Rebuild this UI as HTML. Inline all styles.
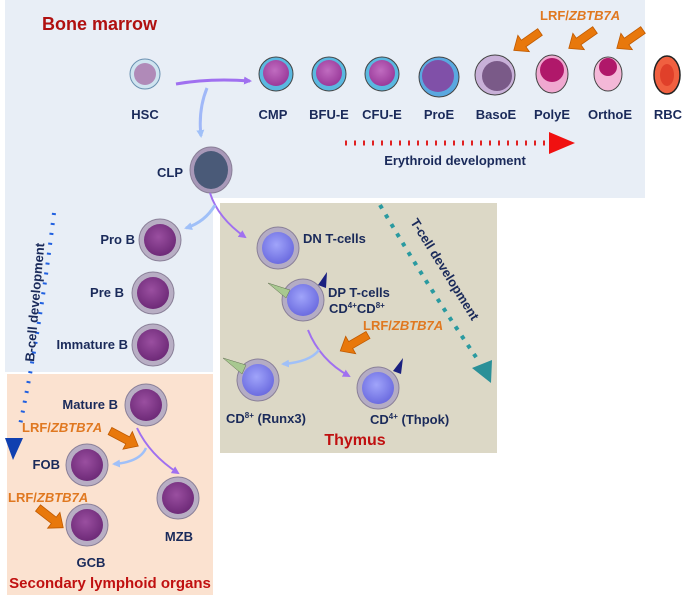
<!DOCTYPE html>
<html><head><meta charset="utf-8"><style>
body{margin:0;background:#fff;}
svg{display:block;font-family:"Liberation Sans",sans-serif;font-weight:bold;}
</style></head><body>
<svg width="685" height="595" viewBox="0 0 685 595" xmlns="http://www.w3.org/2000/svg">
<defs>
<radialGradient id="bc" cx="45%" cy="40%" r="60%"><stop offset="0" stop-color="#9a4fa0"/><stop offset="1" stop-color="#6e2a78"/></radialGradient>
<radialGradient id="tc" cx="45%" cy="40%" r="60%"><stop offset="0" stop-color="#a0a4fa"/><stop offset="1" stop-color="#6c6ce0"/></radialGradient>
<radialGradient id="ec" cx="45%" cy="40%" r="60%"><stop offset="0" stop-color="#c06cc0"/><stop offset="1" stop-color="#9a3a9a"/></radialGradient>
<g id="bcell"><circle r="21" fill="#b8aec4" stroke="#8a8098" stroke-width="1"/><circle r="16" fill="url(#bc)"/></g>
<g id="tcell"><circle r="21" fill="#b4acc4" stroke="#8a8098" stroke-width="1"/><circle r="16" fill="url(#tc)"/></g>
<marker id="ap" markerWidth="8" markerHeight="8" refX="6" refY="4" orient="auto" markerUnits="userSpaceOnUse"><path d="M0,0L8,4L0,8z" fill="#a070f0"/></marker>
<marker id="al" markerWidth="8" markerHeight="8" refX="6" refY="4" orient="auto" markerUnits="userSpaceOnUse"><path d="M0,0L8,4L0,8z" fill="#a0c0f8"/></marker>
<g id="oarr"><path d="M0,-4 L20,-4 L20,-10 L32,0 L20,10 L20,4 L0,4z" fill="#e8780c" stroke="#c05a00" stroke-width="0.8"/></g>
</defs>
<path d="M5,0H645V198H213V372H5Z" fill="#e8eef6"/>
<rect x="220" y="203" width="277" height="250" fill="#dcd8c6"/>
<rect x="7" y="374" width="206" height="221" fill="#fbe2d0"/>

<text x="42" y="30" font-size="18" fill="#b01010">Bone marrow</text>
<text x="540" y="20" font-size="13" fill="#e07820">LRF/<tspan font-style="italic">ZBTB7A</tspan></text>
<use href="#oarr" transform="translate(540,32) rotate(145)"/>
<use href="#oarr" transform="translate(595,30) rotate(145)"/>
<use href="#oarr" transform="translate(643,30) rotate(145)"/>

<circle cx="145" cy="74" r="15" fill="#cfe4f0" stroke="#6a90b0"/><circle cx="145" cy="74" r="11" fill="#b08ab8"/>
<circle cx="276" cy="74" r="17" fill="#5ab8e0" stroke="#444"/><circle cx="276" cy="73" r="13" fill="url(#ec)"/>
<circle cx="329" cy="74" r="17" fill="#5ab8e0" stroke="#444"/><circle cx="329" cy="73" r="13" fill="url(#ec)"/>
<circle cx="382" cy="74" r="17" fill="#5ab8e0" stroke="#444"/><circle cx="382" cy="73" r="13" fill="url(#ec)"/>
<circle cx="439" cy="77" r="20" fill="#5aa8e0" stroke="#444"/><circle cx="438" cy="76" r="16" fill="#8050a8"/>
<circle cx="495" cy="75" r="20" fill="#c8b0d8" stroke="#444"/><circle cx="497" cy="76" r="15" fill="#7a5a88"/>
<ellipse cx="552" cy="74" rx="16" ry="19" fill="#f0a8d0" stroke="#444"/><circle cx="552" cy="70" r="12" fill="#b0186a"/>
<ellipse cx="608" cy="74" rx="14" ry="17" fill="#f4b8d8" stroke="#444"/><circle cx="608" cy="67" r="9" fill="#b0186a"/>
<ellipse cx="667" cy="75" rx="13" ry="19" fill="#f06040" stroke="#222" stroke-width="1.5"/><ellipse cx="667" cy="75" rx="7" ry="11" fill="#e0402a"/>
<g font-size="13" fill="#1a2a5a" text-anchor="middle">
<text x="145" y="119">HSC</text><text x="273" y="119">CMP</text><text x="329" y="119">BFU-E</text><text x="382" y="119">CFU-E</text><text x="439" y="119">ProE</text><text x="496" y="119">BasoE</text><text x="552" y="119">PolyE</text><text x="610" y="119">OrthoE</text><text x="668" y="119">RBC</text>
<text x="455" y="165">Erythroid development</text>
<text x="170" y="177">CLP</text>
</g>
<path d="M176,84 Q210,78 250,81" stroke="#a070f0" stroke-width="3" fill="none" marker-end="url(#ap)"/>
<path d="M207,88 Q198,110 201,136" stroke="#a0b8f8" stroke-width="3" fill="none" marker-end="url(#al)"/>
<line x1="345" y1="143" x2="548" y2="143" stroke="#e02020" stroke-width="5" stroke-dasharray="2,7"/>
<path d="M549,132 L575,143 L549,154Z" fill="#f01010"/>

<ellipse cx="211" cy="170" rx="21" ry="23" fill="#a898b8" stroke="#8a8098"/><ellipse cx="211" cy="170" rx="17" ry="19" fill="#4a5a78"/>
<path d="M210,193 Q218,218 245,237" stroke="#a070f0" stroke-width="2" fill="none" marker-end="url(#ap)"/>
<path d="M215,205 Q205,222 186,228" stroke="#a0c0f8" stroke-width="3" fill="none" marker-end="url(#al)"/>

<use href="#bcell" x="160" y="240"/>
<use href="#bcell" x="153" y="293"/>
<use href="#bcell" x="153" y="345"/>
<use href="#bcell" x="146" y="405"/>
<use href="#bcell" x="87" y="465"/>
<use href="#bcell" x="87" y="525"/>
<use href="#bcell" x="178" y="498"/>
<g font-size="13" fill="#1a2a5a" text-anchor="end">
<text x="135" y="244">Pro B</text><text x="124" y="297">Pre B</text><text x="128" y="349">Immature  B</text>
<text x="118" y="409">Mature B</text><text x="60" y="469">FOB</text>
</g>
<g font-size="13" fill="#1a2a5a" text-anchor="middle"><text x="91" y="567">GCB</text><text x="179" y="541">MZB</text></g>
<text x="110" y="588" font-size="15" fill="#c01010" text-anchor="middle">Secondary lymphoid organs</text>
<text x="22" y="432" font-size="13" fill="#e07820">LRF/<tspan font-style="italic">ZBTB7A</tspan></text>
<text x="8" y="502" font-size="13" fill="#e07820">LRF/<tspan font-style="italic">ZBTB7A</tspan></text>
<use href="#oarr" transform="translate(110,431) rotate(28)"/>
<use href="#oarr" transform="translate(38,508) rotate(38)"/>
<path d="M137,428 Q150,455 178,473" stroke="#a070f0" stroke-width="2" fill="none" marker-end="url(#ap)"/>
<path d="M146,448 Q140,462 114,464" stroke="#a0c0f8" stroke-width="2.5" fill="none" marker-end="url(#al)"/>
<path d="M54,213 Q40,330 20,425" stroke="#2060e0" stroke-width="4" fill="none" stroke-dasharray="2,8"/>
<path d="M5,438 L23,438 L13,460Z" fill="#1040b0"/>
<text transform="translate(34,362) rotate(-85)" font-size="13" fill="#1a2a5a">B-cell development</text>

<use href="#tcell" x="278" y="248"/>
<use href="#tcell" x="303" y="300"/>
<use href="#tcell" x="258" y="380"/>
<use href="#tcell" x="378" y="388"/>
<path d="M268,283 L290,290 L286,298Z" fill="#a8c890" stroke="#607050" stroke-width="0.5"/>
<path d="M327,272 L318,285 L326,288Z" fill="#1a2080"/>
<path d="M223,358 L246,365 L242,374Z" fill="#a8c890" stroke="#607050" stroke-width="0.5"/>
<path d="M403,358 L393,371 L401,374Z" fill="#1a2080"/>
<g font-size="13" fill="#1a2a5a">
<text x="303" y="243">DN T-cells</text>
<text x="328" y="297">DP T-cells</text>
<text x="329" y="313">CD<tspan font-size="8" dy="-5">4+</tspan><tspan dy="5">CD</tspan><tspan font-size="8" dy="-5">8+</tspan></text>
<text x="226" y="423">CD<tspan font-size="8" dy="-5">8+</tspan><tspan dy="5"> (Runx3)</tspan></text>
<text x="370" y="424">CD<tspan font-size="8" dy="-5">4+</tspan><tspan dy="5"> (Thpok)</tspan></text>
</g>
<text x="363" y="330" font-size="13" fill="#e07820">LRF/<tspan font-style="italic">ZBTB7A</tspan></text>
<use href="#oarr" transform="translate(368,335) rotate(150)"/>
<path d="M308,330 Q320,360 349,376" stroke="#a070f0" stroke-width="2" fill="none" marker-end="url(#ap)"/>
<path d="M319,350 Q310,362 283,364" stroke="#a0c0f8" stroke-width="2.5" fill="none" marker-end="url(#al)"/>
<text x="355" y="445" font-size="16" fill="#c01010" text-anchor="middle">Thymus</text>
<path d="M380,205 Q430,290 478,360" stroke="#2a9aa0" stroke-width="4" fill="none" stroke-dasharray="4,7"/>
<path d="M472,368 L492,360 L491,383Z" fill="#2a9098"/>
<text transform="translate(410,222) rotate(58)" font-size="13" fill="#1a2a5a">T-cell development</text>
</svg>
</body></html>
